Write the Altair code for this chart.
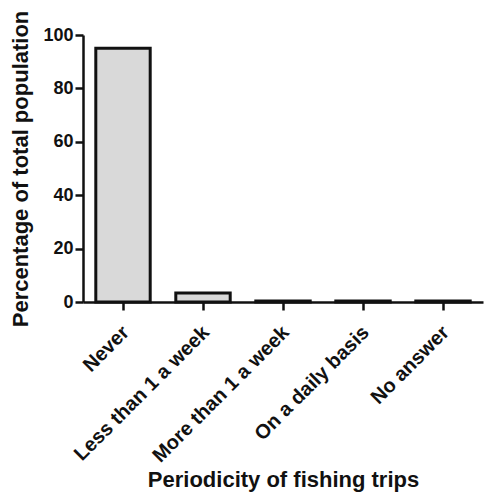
import altair as alt
import pandas as pd

categories = ["Never", "Less than 1 a week", "More than 1 a week", "On a daily basis", "No answer"]
values = [95.0, 3.4, 0.4, 0.4, 0.4]

df = pd.DataFrame({"cat": categories, "val": values})

FONT = "Liberation Sans"

chart = alt.Chart(df).mark_bar(
    fill="#d9d9d9", stroke="#111111", strokeWidth=3
).encode(
    x=alt.X("cat:N", sort=categories,
            scale=alt.Scale(paddingInner=0.32, paddingOuter=0.16),
            axis=alt.Axis(title="Periodicity of fishing trips", labelAngle=-45,
                          labelAlign="right", labelBaseline="middle", labelLimit=400,
                          labelFontSize=20, labelFont=FONT, labelFontWeight="bold",
                          labelColor="#111111", labelPadding=19, labelOffset=3,
                          titleFontSize=22, titleFont=FONT, titleFontWeight="bold",
                          titleColor="#111111", titleBaseline="alphabetic", titleY=184,
                          domainColor="#111111", domainWidth=2.5,
                          tickColor="#111111", tickWidth=2.5, tickSize=8)),
    y=alt.Y("val:Q", scale=alt.Scale(domain=[0, 100], nice=False),
            axis=alt.Axis(title="Percentage of total population", values=[0, 20, 40, 60, 80, 100],
                          grid=False,
                          labelFontSize=18, labelFont=FONT, labelFontWeight="bold",
                          labelColor="#111111", labelPadding=2,
                          titleFontSize=22, titleFont=FONT, titleFontWeight="bold",
                          titleColor="#111111", titleBaseline="alphabetic", titleX=-56,
                          domainColor="#111111", domainWidth=2.5,
                          tickColor="#111111", tickWidth=2.5, tickSize=8)),
).properties(
    width=400, height=267,
    autosize=alt.AutoSizeParams(type="none"),
    padding={"left": 75, "top": 27, "right": 5, "bottom": 193},
).configure_view(stroke=None)

chart.save("out.html", embed_options={"renderer": "svg", "actions": False})
